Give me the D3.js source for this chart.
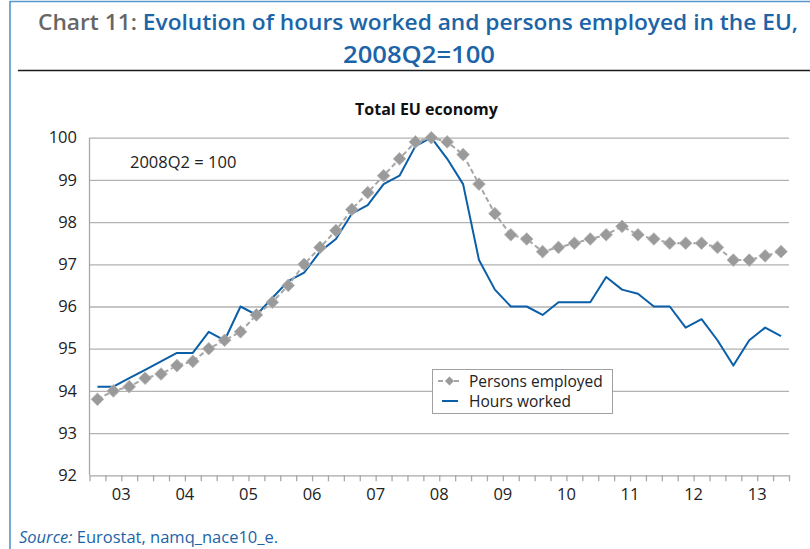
<!DOCTYPE html>
<html lang="en">
<head>
  <meta charset="utf-8">
  <title>Chart 11 - Hours worked and persons employed in the EU</title>
  <script src="https://d3js.org/d3.v7.min.js"></script>
  <style>
    body { margin: 0; background: #fff; }
    svg { display: block; font-family: "Open Sans", "Noto Sans", sans-serif; }
    .tick text { font-family: "Open Sans", "Noto Sans", sans-serif; }
  </style>
</head>
<body>
<script>

// quarters 2003Q1 .. 2013Q4
var years = ["03","04","05","06","07","08","09","10","11","12","13"];
var quarters = ["Q1","Q2","Q3","Q4"];
var categories = [];
years.forEach(function(yr){ quarters.forEach(function(q){ categories.push(yr + q); }); });

var yTicks = [92, 93, 94, 95, 96, 97, 98, 99, 100];

// 2008Q2 = 100
var personsEmployed = [93.8, 94.0, 94.1, 94.3, 94.4, 94.6, 94.7, 95.0, 95.2, 95.4, 95.8, 96.1,
                       96.5, 97.0, 97.4, 97.8, 98.3, 98.7, 99.1, 99.5, 99.9, 100, 99.9, 99.6,
                       98.9, 98.2, 97.7, 97.6, 97.3, 97.4, 97.5, 97.6, 97.7, 97.9, 97.7, 97.6,
                       97.5, 97.5, 97.5, 97.4, 97.1, 97.1, 97.2, 97.3];
var hoursWorked = [94.1, 94.1, 94.3, 94.5, 94.7, 94.9, 94.9, 95.4, 95.2, 96.0, 95.8, 96.2,
                   96.6, 96.8, 97.3, 97.6, 98.2, 98.4, 98.9, 99.1, 99.8, 100, 99.5, 98.9,
                   97.1, 96.4, 96.0, 96.0, 95.8, 96.1, 96.1, 96.1, 96.7, 96.4, 96.3, 96.0,
                   96.0, 95.5, 95.7, 95.2, 94.6, 95.2, 95.5, 95.3];

var W = 810, H = 549;
var plotL = 89.5, plotR = 789, plotT = 137.7, plotB = 475.3;
var blue = "#0b5ea8", titleBlue = "#1c64a8", grid = "#b2b2b2";

var svg = d3.select("body").append("svg")
    .attr("width", W)
    .attr("height", H);

// frame
svg.append("line").attr("x1", 10).attr("x2", W).attr("y1", 1.5).attr("y2", 1.5)
    .style("stroke", "#5a97cc").style("stroke-width", 1.5);
svg.append("line").attr("x1", 10).attr("x2", 10).attr("y1", 1).attr("y2", H)
    .style("stroke", "#4a8cc6").style("stroke-width", 1.5);
svg.append("line").attr("x1", 18).attr("x2", W).attr("y1", 70.5).attr("y2", 70.5)
    .style("stroke", "#1a1a1a").style("stroke-width", 1.5);

// title
var t1 = svg.append("text")
    .attr("x", 38).attr("y", 30)
    .attr("textLength", 760).attr("lengthAdjust", "spacingAndGlyphs")
    .style("font-size", "22px").style("font-weight", 600);
t1.append("tspan").style("fill", "#666").text("Chart 11: ");
t1.append("tspan").style("fill", titleBlue).text("Evolution of hours worked and persons employed in the EU,");
svg.append("text")
    .attr("x", 419).attr("y", 63).attr("text-anchor", "middle")
    .style("font-size", "23px").style("font-weight", 600).style("fill", titleBlue)
    .attr("textLength", 152).attr("lengthAdjust", "spacingAndGlyphs")
    .text("2008Q2=100");

svg.append("text")
    .attr("x", 426.5).attr("y", 115).attr("text-anchor", "middle")
    .style("font-size", "16px").style("font-weight", 700).style("fill", "#111")
    .text("Total EU economy");

// scales
var x = d3.scaleBand().domain(categories).range([plotL, plotR]).padding(0);
var xIdx = d3.scaleLinear().domain([0, categories.length]).range([plotL, plotR]);
var y = d3.scaleLinear().domain([92, 100]).range([plotB, plotT]);

// gridlines
var gridG = svg.append("g").attr("transform", "translate(" + plotL + ",0)")
    .call(d3.axisLeft(y).tickValues(yTicks.slice(1)).tickSize(-(plotR - plotL)).tickFormat(""));
gridG.select(".domain").remove();
gridG.selectAll(".tick line").style("stroke", grid).style("stroke-width", 1.3);

// y labels
var yAx = svg.append("g").attr("transform", "translate(" + plotL + ",0)")
    .call(d3.axisLeft(y).tickValues(yTicks).tickSize(0).tickPadding(12.5).tickFormat(d3.format("d")));
yAx.select(".domain").remove();
yAx.selectAll(".tick text").style("font-size", "16.5px").style("fill", "#222");

svg.append("line").attr("x1", plotL).attr("x2", plotL).attr("y1", plotT).attr("y2", plotB)
    .style("stroke", "#a8a8a8").style("stroke-width", 1.3);

// x axis: a tick at every quarter, labels centred on the year
var xAx = svg.append("g").attr("transform", "translate(0," + plotB + ")")
    .call(d3.axisBottom(xIdx).tickValues(d3.range(categories.length + 1)).tickSize(6).tickSizeOuter(0).tickFormat(""));
xAx.select(".domain").style("stroke", "#a8a8a8").style("stroke-width", 1.3);
xAx.selectAll(".tick line").style("stroke", "#a8a8a8").style("stroke-width", 1.3);

svg.append("g").selectAll("text")
    .data(years)
    .enter().append("text")
    .attr("x", function(d){ return x(d + "Q1") + x.bandwidth() * 2; })
    .attr("y", 500)
    .attr("text-anchor", "middle")
    .style("font-size", "16.5px").style("fill", "#222")
    .text(function(d){ return d; });

// annotation
svg.append("text").attr("x", 130).attr("y", 168)
    .style("font-size", "16.5px").style("fill", "#222")
    .text("2008Q2 = 100");

var cx = function(d, i){ return x(categories[i]) + x.bandwidth() / 2; };

// hours worked
svg.append("path")
    .datum(hoursWorked)
    .attr("d", d3.line().x(cx).y(function(d){ return y(d); }))
    .style("fill", "none").style("stroke", blue).style("stroke-width", 2)
    .style("stroke-linejoin", "round");

// persons employed
svg.append("path")
    .datum(personsEmployed)
    .attr("d", d3.line().x(cx).y(function(d){ return y(d); }))
    .style("fill", "none").style("stroke", "#a6a6a6").style("stroke-width", 2)
    .style("stroke-dasharray", "5,3");

var diamond = d3.symbol().type(d3.symbolSquare).size(80);
svg.append("g").selectAll("path")
    .data(personsEmployed)
    .enter().append("path")
    .attr("d", diamond)
    .attr("transform", function(d, i){ return "translate(" + cx(d, i) + "," + y(d) + ") rotate(45)"; })
    .style("fill", "#9a9a9a").style("stroke", "#b5b5b5").style("stroke-width", 0.8);

// legend
var lg = svg.append("g");
lg.append("rect").attr("x", 432.5).attr("y", 369.5).attr("width", 180).attr("height", 44)
    .style("fill", "#fff").style("stroke", "#a0a0a0").style("stroke-width", 1);
lg.append("line").attr("x1", 438).attr("x2", 461).attr("y1", 381).attr("y2", 381)
    .style("stroke", "#a6a6a6").style("stroke-width", 2).style("stroke-dasharray", "5,3");
lg.append("path").attr("d", d3.symbol().type(d3.symbolSquare).size(40))
    .attr("transform", "translate(449.5,381) rotate(45)").style("fill", "#9a9a9a");
lg.append("line").attr("x1", 442).attr("x2", 458).attr("y1", 401).attr("y2", 401)
    .style("stroke", blue).style("stroke-width", 2);
lg.append("text").attr("x", 469).attr("y", 387).style("font-size", "15.5px").style("fill", "#222")
    .text("Persons employed");
lg.append("text").attr("x", 469).attr("y", 407).style("font-size", "15.5px").style("fill", "#222")
    .text("Hours worked");

// source
var src = svg.append("text").attr("x", 19).attr("y", 543)
    .style("font-size", "16.5px").style("fill", titleBlue);
src.append("tspan").style("font-style", "italic").text("Source:");
src.append("tspan").text(" Eurostat, namq_nace10_e.");

</script>
</body>
</html>
